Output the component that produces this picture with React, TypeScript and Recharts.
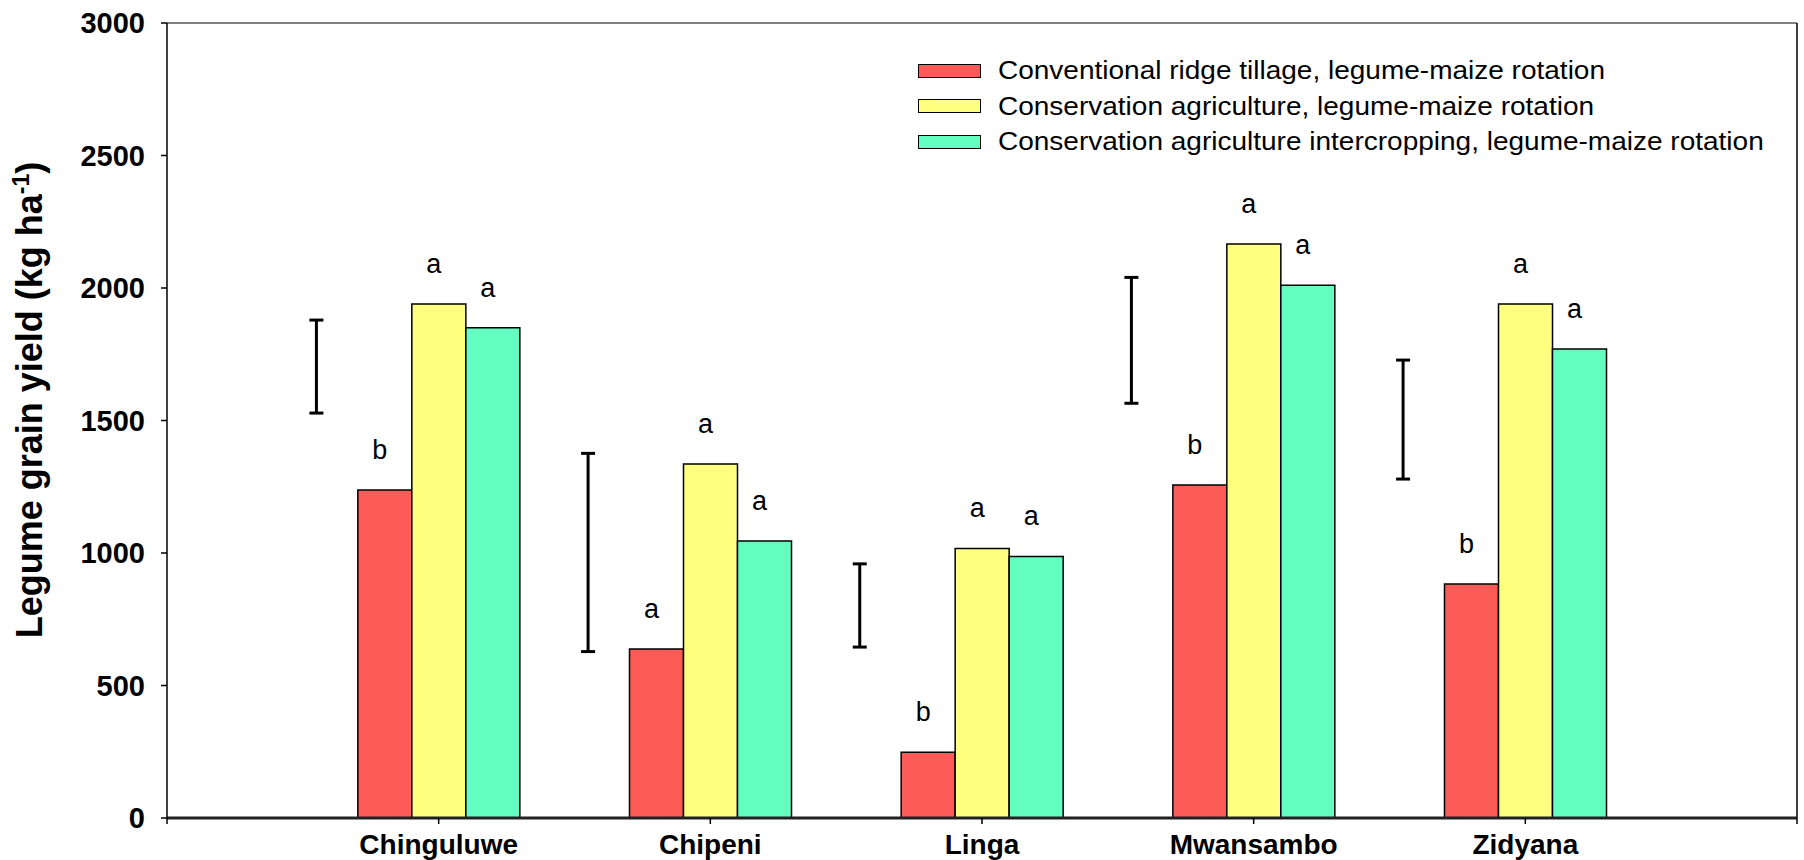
import React from "react";
import {
  Bar,
  BarChart,
  LabelList,
  Legend,
  ReferenceLine,
  XAxis,
  YAxis,
} from "recharts";

const sites = ["Chinguluwe", "Chipeni", "Linga", "Mwansambo", "Zidyana"];
const seriesNames = [
  "Conventional ridge tillage, legume-maize rotation",
  "Conservation agriculture, legume-maize rotation",
  "Conservation agriculture intercropping, legume-maize rotation",
];
const conventional = [1238, 638, 248, 1257, 883];
const caRotation = [1940, 1336, 1017, 2166, 1940];
const caIntercrop = [1850, 1045, 987, 2010, 1770];
const conventionalSig = ["b", "a", "b", "b", "b"];
const caRotationSig = ["a", "a", "a", "a", "a"];
const caIntercropSig = ["a", "a", "a", "a", "a"];
// LSD bars drawn to the left of each site group
const lsdLow = [1528, 628, 645, 1565, 1279];
const lsdHigh = [1879, 1376, 959, 2040, 1728];
const yTicks = [0, 500, 1000, 1500, 2000, 2500, 3000];

const FONT = "'Liberation Sans', Arial, sans-serif";

const data = sites.map((site, i) => ({
  site,
  pos: i + 1,
  conventional: conventional[i],
  caRotation: caRotation[i],
  caIntercrop: caIntercrop[i],
  conventionalSig: conventionalSig[i],
  caRotationSig: caRotationSig[i],
  caIntercropSig: caIntercropSig[i],
}));

const SigLabel = (props: any) => {
  const vb = props.viewBox ?? props;
  const x = vb.x + vb.width / 2 - 5;
  return (
    <text x={x} y={vb.y - 31} textAnchor="middle" fontSize={27} fontFamily={FONT} fill="#000">
      {props.value}
    </text>
  );
};

const LsdShape = (props: any) => {
  const { x1, y1, x2, y2 } = props;
  const cap = 7;
  return (
    <g stroke="#000" strokeWidth={3}>
      <line x1={x1} y1={y1} x2={x2} y2={y2} />
      <line x1={x1 - cap} y1={y1} x2={x1 + cap} y2={y1} />
      <line x1={x2 - cap} y1={y2} x2={x2 + cap} y2={y2} />
    </g>
  );
};

const LegendBox = ({ payload }: any) => {
  const items = [...(payload ?? [])].sort(
    (a: any, b: any) => seriesNames.indexOf(a.value) - seriesNames.indexOf(b.value)
  );
  return (
    <div style={{ fontFamily: FONT }}>
      {items.map((p: any) => (
        <div key={p.value} style={{ display: "flex", alignItems: "center", height: 35.5 }}>
          <div
            style={{
              width: 63,
              height: 14,
              boxSizing: "border-box",
              border: "1.5px solid #000",
              background: p.color,
              marginRight: 17,
            }}
          />
          <span
            style={{
              fontSize: 25,
              color: "#000",
              whiteSpace: "nowrap",
              display: "inline-block",
              transform: "scaleX(1.12)",
              transformOrigin: "left center",
            }}
          >
            {p.value}
          </span>
        </div>
      ))}
    </div>
  );
};

const YLabel = () => (
  <text
    x={42}
    y={400}
    transform="rotate(-90 42 400)"
    textAnchor="middle"
    fontSize={36}
    fontWeight="bold"
    fontFamily={FONT}
    fill="#000"
  >
    Legume grain yield (kg ha
    <tspan dy={-13} fontSize={23}>-1</tspan>
    <tspan dy={13}>)</tspan>
  </text>
);

export default function App() {
  return (
    <div style={{ width: 1804, height: 860, background: "#fff" }}>
      <style>{`body{margin:0;}`}</style>
      <BarChart
        width={1804}
        height={860}
        data={data}
        margin={{ top: 23, right: 7, bottom: 0, left: 0 }}
        barGap={0}
        barSize={54}
      >
        <XAxis
          type="number"
          dataKey="pos"
          domain={[0, 6]}
          ticks={[0, 1, 2, 3, 4, 5, 6]}
          interval={0}
          height={42}
          tickFormatter={(v: number) => sites[v - 1] ?? ""}
          axisLine={{ stroke: "#222", strokeWidth: 3 }}
          tickLine={{ stroke: "#000", strokeWidth: 1.5 }}
          tickSize={6}
          tickMargin={10}
          tick={{ fontSize: 28, fontWeight: "bold", fill: "#000", fontFamily: FONT }}
        />
        <YAxis
          type="number"
          domain={[0, 3000]}
          ticks={yTicks}
          interval={0}
          width={167}
          axisLine={{ stroke: "#000", strokeWidth: 1.5 }}
          tickLine={{ stroke: "#000", strokeWidth: 1.5 }}
          tickSize={6}
          tickMargin={16}
          tick={{ fontSize: 29, fontWeight: "bold", fill: "#000", fontFamily: FONT }}
          label={{ content: () => <YLabel /> }}
        />
        <ReferenceLine y={3000} stroke="#000" strokeWidth={1} />
        <ReferenceLine x={6} stroke="#000" strokeWidth={1.5} />
        {sites.map((s, i) => (
          <ReferenceLine
            key={s}
            segment={[
              { x: i + 0.55, y: lsdLow[i] },
              { x: i + 0.55, y: lsdHigh[i] },
            ]}
            shape={LsdShape}
          />
        ))}
        <Legend
          layout="vertical"
          align="center"
          verticalAlign="middle"
          content={LegendBox}
          wrapperStyle={{ top: 53, left: 918, width: 800, height: 110 }}
        />
        <Bar
          dataKey="conventional"
          name={seriesNames[0]}
          fill="#FC5B58"
          stroke="#000"
          strokeWidth={1.5}
          isAnimationActive={false}
        >
          <LabelList dataKey="conventionalSig" content={SigLabel} />
        </Bar>
        <Bar
          dataKey="caRotation"
          name={seriesNames[1]}
          fill="#FFFF80"
          stroke="#000"
          strokeWidth={1.5}
          isAnimationActive={false}
        >
          <LabelList dataKey="caRotationSig" content={SigLabel} />
        </Bar>
        <Bar
          dataKey="caIntercrop"
          name={seriesNames[2]}
          fill="#63FFC0"
          stroke="#000"
          strokeWidth={1.5}
          isAnimationActive={false}
        >
          <LabelList dataKey="caIntercropSig" content={SigLabel} />
        </Bar>
      </BarChart>
    </div>
  );
}
